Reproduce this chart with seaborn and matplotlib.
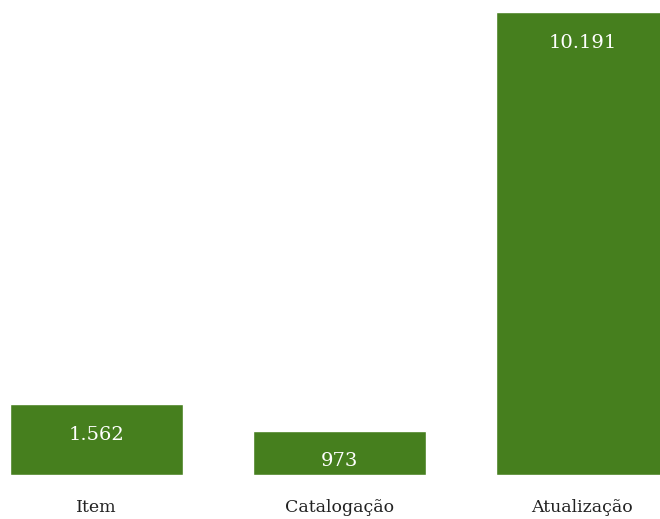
import matplotlib
matplotlib.use("Agg")
import matplotlib.pyplot as plt
import seaborn as sns
import pandas as pd

categories = ["Item", "Catalogação", "Atualização"]
values = [1562, 973, 10191]
value_labels = ["1.562", "973", "10.191"]

df = pd.DataFrame({"categoria": categories, "valor": values})

sns.set_style("white")
plt.rcParams["font.family"] = ["DejaVu Serif"]

fig = plt.figure(figsize=(6.6, 5.19), dpi=100)
ax = fig.add_axes([0, 44 / 519, 1, 463 / 519])

sns.barplot(data=df, x="categoria", y="valor", color="#467f1e", saturation=1,
            width=0.712, ax=ax)

# value labels inside the top of each bar
for bar, label in zip(ax.patches, value_labels):
    ax.annotate(label, (bar.get_x() + bar.get_width() / 2, bar.get_height()),
                xytext=(0, -22), textcoords="offset points",
                ha="center", va="center", color="white", fontsize=14)

ax.set_xlim(-0.397, 2.319)
ax.set_ylim(0, 10191)
ax.set_xlabel("")
ax.set_ylabel("")
ax.set_yticks([])
ax.tick_params(axis="x", length=0, pad=17, labelsize=12.5, labelcolor="#222222")
sns.despine(left=True, bottom=True)

plt.savefig("out.png", dpi=100)
plt.close()
